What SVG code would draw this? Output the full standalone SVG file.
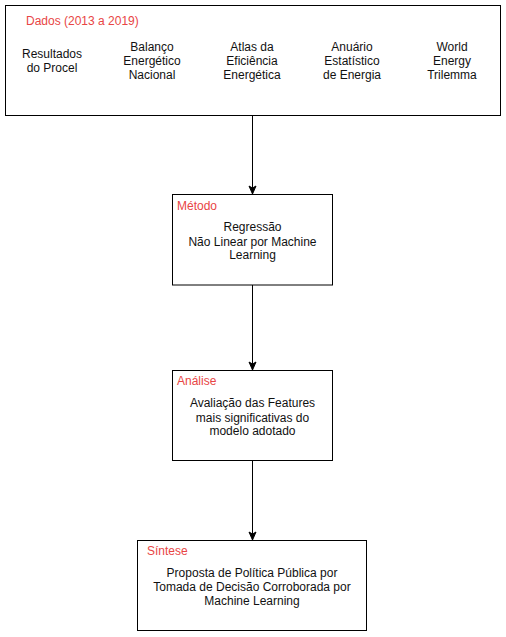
<svg xmlns="http://www.w3.org/2000/svg" width="506" height="637" viewBox="0 0 506 637">
<style>
.box{fill:#fff;stroke:#000;stroke-width:1}
.lbl{font-family:"Liberation Sans",Arial,sans-serif;font-size:12px;fill:#e84545}
.t{font-family:"Liberation Sans",Arial,sans-serif;font-size:12px;fill:#111;text-anchor:middle}
.c{stroke:#000;stroke-width:1;fill:none;marker-end:url(#arr)}
</style>
<defs>
<marker id="arr" markerWidth="10" markerHeight="10" viewBox="0 0 10 10" refX="9" refY="5" orient="auto" markerUnits="userSpaceOnUse">
<path d="M1,1.5 L9,5 L1,8.5 L3,5 Z" fill="#000" stroke="#000" stroke-width="1"/>
</marker>
</defs>
<rect width="506" height="637" fill="#fff"/>
<g id="connectors">
<path class="c" d="M252.5,115.5 L252.5,194"/>
<path class="c" d="M252.5,285 L252.5,370"/>
<path class="c" d="M252.5,460.5 L252.5,540"/>
</g>
<g id="dados">
<rect class="box" x="5.5" y="5.5" width="495" height="110"/>
<text class="lbl" x="26" y="25">Dados (2013 a 2019)</text>
<text class="t" x="52" y="58">Resultados</text>
<text class="t" x="52" y="72">do Procel</text>
<text class="t" x="152" y="51">Balanço</text>
<text class="t" x="152" y="65">Energético</text>
<text class="t" x="152" y="79">Nacional</text>
<text class="t" x="252" y="51">Atlas da</text>
<text class="t" x="252" y="65">Eficiência</text>
<text class="t" x="252" y="79">Energética</text>
<text class="t" x="352" y="51">Anuário</text>
<text class="t" x="352" y="65">Estatístico</text>
<text class="t" x="352" y="79">de Energia</text>
<text class="t" x="452" y="51">World</text>
<text class="t" x="452" y="65">Energy</text>
<text class="t" x="452" y="79">Trilemma</text>
</g>
<g id="metodo">
<rect class="box" x="172.5" y="194.5" width="160" height="90.5"/>
<text class="lbl" x="177" y="210">Método</text>
<text class="t" x="252.5" y="231">Regressão</text>
<text class="t" x="252.5" y="246">Não Linear por Machine</text>
<text class="t" x="252.5" y="259">Learning</text>
</g>
<g id="analise">
<rect class="box" x="172.5" y="370.5" width="160" height="90"/>
<text class="lbl" x="177" y="385">Análise</text>
<text class="t" x="252.5" y="407">Avaliação das Features</text>
<text class="t" x="252.5" y="422">mais significativas do</text>
<text class="t" x="252.5" y="435">modelo adotado</text>
</g>
<g id="sintese">
<rect class="box" x="137.5" y="540.5" width="229" height="90"/>
<text class="lbl" x="147" y="555">Síntese</text>
<text class="t" x="252" y="577">Proposta de Política Pública por</text>
<text class="t" x="252" y="591">Tomada de Decisão Corroborada por</text>
<text class="t" x="252" y="605">Machine Learning</text>
</g>
</svg>
